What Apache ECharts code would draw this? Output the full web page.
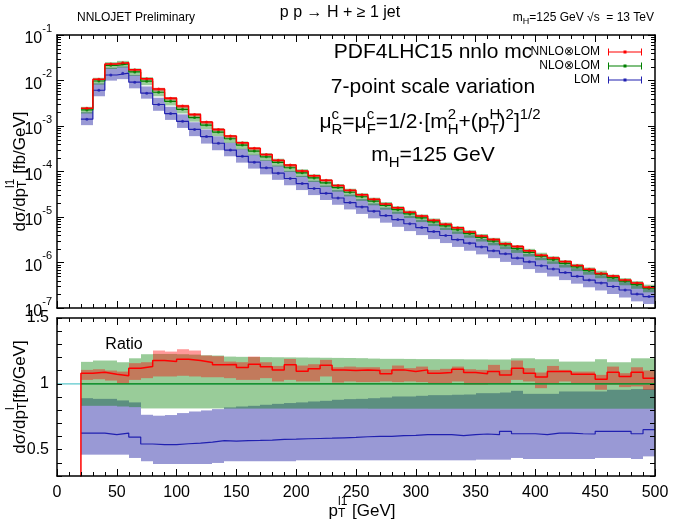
<!DOCTYPE html>
<html><head><meta charset="utf-8">
<script src="https://cdn.jsdelivr.net/npm/echarts@6/dist/echarts.min.js"></script>
<style>html,body{margin:0;padding:0;background:#fff}#c{width:675px;height:525px}</style>
</head><body><div id="c"></div>
<script>
// ---- data ----
const binEdges = [20,30,40,50,60,70,80,90,100,110,120,130,140,150,160,170,180,190,200,210,220,230,240,250,260,270,280,290,300,310,320,330,340,350,360,370,380,390,400,410,420,430,440,450,460,470,480,490,500];
const xTicks = [0,50,100,150,200,250,300,350,400,450,500];
// NLO central value [fb/GeV]
const nlo = [2.26e-3,9.75e-3,2.15e-2,2.32e-2,1.54e-2,9.68e-3,5.52e-3,3.48e-3,2.32e-3,1.53e-3,
 1.05e-3,7.35e-4,5.24e-4,3.80e-4,2.81e-4,2.10e-4,1.59e-4,1.21e-4,9.33e-5,7.23e-5,
 5.64e-5,4.43e-5,3.50e-5,2.79e-5,2.23e-5,1.79e-5,1.45e-5,1.17e-5,9.55e-6,7.80e-6,
 6.38e-6,5.25e-6,4.32e-6,3.56e-6,2.94e-6,2.43e-6,2.01e-6,1.67e-6,1.38e-6,1.15e-6,
 9.57e-7,7.98e-7,6.65e-7,5.56e-7,4.65e-7,3.89e-7,3.26e-7,2.73e-7];
// ratios to NLO central
const rNNLO = [1.081,1.088,1.073,1.061,1.119,1.131,1.177,1.169,1.187,1.177,
 1.162,1.144,1.146,1.124,1.148,1.129,1.106,1.144,1.096,1.114,
 1.141,1.106,1.101,1.106,1.101,1.076,1.106,1.093,1.106,1.081,
 1.086,1.111,1.086,1.076,1.093,1.068,1.119,1.081,1.051,1.093,
 1.093,1.073,1.073,1.035,1.088,1.056,1.088,1.043];
const rNNLOLo = [1.030,1.035,1.025,1.000,1.030,1.043,1.056,1.056,1.061,1.056,
 1.050,1.050,1.043,1.030,1.030,1.043,1.018,1.030,1.018,1.018,
 1.056,1.010,1.018,1.013,1.013,1.018,1.013,1.018,1.013,1.005,
 1.005,1.018,0.992,0.992,1.005,1.000,1.030,1.018,0.967,1.005,
 1.018,1.005,1.005,0.955,0.992,0.975,0.980,0.955];
const rNNLOHi = [1.106,1.111,1.101,1.093,1.157,1.164,1.253,1.245,1.263,1.253,
 1.215,1.210,1.169,1.164,1.207,1.164,1.136,1.189,1.139,1.149,
 1.182,1.126,1.131,1.126,1.126,1.111,1.139,1.119,1.131,1.106,
 1.114,1.131,1.111,1.106,1.144,1.106,1.177,1.119,1.086,1.136,
 1.106,1.093,1.093,1.068,1.131,1.081,1.126,1.101];
const rNLO = [1,1,1,1,1,1,1,1,1,1,1,1,1,1,1,1,1,1,1,1,1,1,1,1,1,1,1,1,1,1,1,1,1,1,1,1,1,1,1,1,1,1,1,1,1,1,1,1];
const rNLOLo = [0.833,0.833,0.833,0.828,0.823,0.813,0.813,0.813,0.813,0.813,0.813,0.813,
 0.812,0.812,0.812,0.812,0.812,0.812,0.812,0.812,0.812,0.812,0.812,0.812,
 0.811,0.811,0.811,0.811,0.811,0.811,0.811,0.811,0.811,0.811,0.811,0.811,
 0.811,0.811,0.811,0.811,0.811,0.811,0.811,0.811,0.811,0.811,0.811,0.811];
const rNLOHi = [1.167,1.177,1.177,1.164,1.194,1.225,1.227,1.227,1.225,1.222,1.217,1.215,
 1.207,1.205,1.204,1.203,1.202,1.201,1.200,1.199,1.198,1.197,1.196,1.195,
 1.192,1.190,1.190,1.189,1.188,1.188,1.187,1.187,1.186,1.186,1.185,1.185,
 1.194,1.194,1.187,1.187,1.169,1.169,1.169,1.187,1.164,1.164,1.194,1.194];
const rLOM = [0.626,0.626,0.614,0.626,0.596,0.543,0.538,0.538,0.545,0.550,
 0.558,0.568,0.565,0.568,0.570,0.573,0.578,0.580,0.583,0.585,
 0.587,0.590,0.593,0.598,0.601,0.601,0.606,0.608,0.614,0.614,
 0.614,0.606,0.614,0.619,0.614,0.639,0.621,0.621,0.614,0.626,
 0.626,0.621,0.619,0.639,0.639,0.639,0.621,0.652];
const rLOMLo = [0.462,0.462,0.462,0.462,0.437,0.412,0.391,0.391,0.391,0.391,0.391,0.399,
 0.412,0.412,0.412,0.412,0.412,0.412,0.419,0.419,0.419,0.419,0.419,0.419,
 0.419,0.419,0.419,0.419,0.419,0.419,0.419,0.419,0.419,0.424,0.424,0.424,
 0.437,0.429,0.429,0.429,0.429,0.429,0.429,0.437,0.437,0.437,0.429,0.449];
const rLOMHi = [0.891,0.886,0.886,0.874,0.859,0.765,0.758,0.763,0.778,0.790,0.798,0.808,
 0.821,0.828,0.833,0.841,0.848,0.854,0.859,0.866,0.871,0.879,0.884,0.886,
 0.891,0.896,0.904,0.904,0.909,0.914,0.914,0.917,0.919,0.929,0.929,0.934,
 0.947,0.924,0.924,0.924,0.942,0.942,0.942,0.942,0.955,0.955,0.960,0.960];
const rUnderflow = 0;   // ratio below the first bin
const seriesNames = ['NNLO\u2297LOM', 'NLO\u2297LOM', 'LOM'];

// ---- styles ----
const FONT = '"Liberation Sans", Arial, Helvetica, "DejaVu Sans", sans-serif';
const RED = '#ff0000', GREEN = '#008000', BLUE = '#2020b0', CYAN = '#5cc8cc';
const RED_B = 'rgba(255,0,0,0.4)', GREEN_B = 'rgba(0,128,0,0.4)', BLUE_B = 'rgba(0,0,150,0.4)';

const mul = (a, r) => a.map((v, i) => v * r[i]);
const centers = binEdges.slice(0, -1).map((x, i) => (x + binEdges[i + 1]) / 2);

function band(xi, yi, lo, hi, color) {
  return {
    type: 'custom', xAxisIndex: xi, yAxisIndex: yi, silent: true, clip: true, z: 2,
    encode: { x: [0, 1], y: [2, 3] },
    data: lo.map((l, i) => [binEdges[i], binEdges[i + 1], l, hi[i]]),
    renderItem: (params, api) => {
      const a = api.coord([api.value(0), api.value(3)]);
      const b = api.coord([api.value(1), api.value(2)]);
      const x0 = Math.round(a[0]), x1 = Math.round(b[0]);
      return { type: 'rect', shape: { x: x0, y: a[1], width: x1 - x0, height: b[1] - a[1] }, style: { fill: color } };
    }
  };
}
function stepLine(xi, yi, vals, color, width, name, pre) {
  const d = vals.map((v, i) => [binEdges[i], v]);
  d.push([binEdges[binEdges.length - 1], vals[vals.length - 1]]);
  return {
    type: 'line', name: name, xAxisIndex: xi, yAxisIndex: yi, step: 'end', z: 3,
    data: pre ? pre.concat(d) : d, symbol: 'none', silent: true,
    lineStyle: { color: color, width: width }, itemStyle: { color: color }
  };
}
function markers(vals, color) {
  return {
    type: 'scatter', xAxisIndex: 0, yAxisIndex: 0, silent: true, z: 4,
    data: vals.map((v, i) => [centers[i], v]), symbol: 'circle', symbolSize: 3,
    itemStyle: { color: color }
  };
}
// log minor tick positions (axis decoration)
const logMinor = [];
for (let e = -7; e < -1 + 1e-9; e++) for (let m = 2; m <= 9; m++) { const v = m * Math.pow(10, e); if (v < 0.1) logMinor.push(v); }
const minorTickSeries = {
  type: 'custom', xAxisIndex: 0, yAxisIndex: 0, silent: true, z: 10,
  data: logMinor.map(v => [0, v]),
  renderItem: (params, api) => {
    const cs = params.coordSys;
    const y = Math.round(api.coord([0, api.value(1)])[1]) + 0.5;
    return { type: 'group', children: [
      { type: 'line', shape: { x1: cs.x, y1: y, x2: cs.x + 4, y2: y }, style: { stroke: '#000', lineWidth: 1 } },
      { type: 'line', shape: { x1: cs.x + cs.width - 4, y1: y, x2: cs.x + cs.width, y2: y }, style: { stroke: '#000', lineWidth: 1 } }
    ] };
  }
};

const axisLine = { show: true, onZero: false, lineStyle: { color: '#000', width: 1.5 } };
const axisTick = { show: true, inside: true, length: 7, lineStyle: { color: '#000', width: 1 } };
const minorTick = { show: true, inside: true, splitNumber: 5, length: 4, lineStyle: { color: '#000', width: 1 } };
const richSS = {
  n: { fontSize: 17, lineHeight: 24, verticalAlign: 'bottom', align: 'left', fontFamily: FONT, color: '#000' },
  subz: { fontSize: 12, lineHeight: 10, verticalAlign: 'bottom', align: 'left', width: 0.01, fontFamily: FONT, color: '#000' },
  sup: { fontSize: 12, lineHeight: 10, verticalAlign: 'top', align: 'left', fontFamily: FONT, color: '#000' }
};
function xAx(gi, pos, labels, name) {
  return {
    type: 'value', gridIndex: gi, position: pos, min: 0, max: 500, interval: 50, z: 10,
    axisLine: axisLine, axisTick: axisTick, minorTick: minorTick, splitLine: { show: false }, minorSplitLine: { show: false },
    axisLabel: labels ? { show: true, fontSize: 16, fontFamily: FONT, color: '#000', margin: 9,
      formatter: v => (xTicks.indexOf(v) >= 0 ? String(v) : '') } : { show: false },
    name: name || '', nameLocation: 'middle', nameGap: 20, nameMoveOverlap: false,
    nameTextStyle: { fontSize: 17, fontFamily: FONT, color: '#000', lineHeight: 24, padding: [0, 0, 0, 12], rich: richSS }
  };
}
const logLabelRich = {
  b: { fontSize: 16, lineHeight: 24, verticalAlign: 'bottom', fontFamily: FONT, color: '#000' },
  s: { fontSize: 11, lineHeight: 12, verticalAlign: 'top', fontFamily: FONT, color: '#000' }
};
function yLog(pos, labels, name) {
  return {
    type: 'log', logBase: 10, gridIndex: 0, position: pos, min: 1e-7, max: 1e-1, splitNumber: 6, z: 10,
    axisLine: axisLine, axisTick: axisTick, splitLine: { show: false },
    axisLabel: labels ? { show: true, margin: 5, formatter: v => '{b|10}{s|' + Math.round(Math.log10(v)) + '}', rich: logLabelRich } : { show: false },
    name: name || '', nameLocation: 'middle', nameRotate: 90, nameGap: 28, nameMoveOverlap: false,
    nameTextStyle: { fontSize: 17, fontFamily: FONT, color: '#000', lineHeight: 24, rich: richSS }
  };
}
function yRatio(pos, labels, name) {
  return {
    type: 'value', gridIndex: 1, position: pos, min: 0.3, max: 1.5, interval: 0.1, z: 10,
    axisLine: axisLine, axisTick: { show: true, inside: true, length: 5, lineStyle: { color: '#000', width: 1 } }, splitLine: { show: false },
    axisLabel: labels ? { show: true, fontSize: 16, fontFamily: FONT, color: '#000', margin: 8,
      formatter: v => (Math.abs(v - 0.5) < 1e-6 ? '0.5' : Math.abs(v - 1) < 1e-6 ? '1' : Math.abs(v - 1.5) < 1e-6 ? '1.5' : '') } : { show: false },
    name: name || '', nameLocation: 'middle', nameRotate: 90, nameGap: 28, nameMoveOverlap: false,
    nameTextStyle: { fontSize: 17, fontFamily: FONT, color: '#000', lineHeight: 24, rich: richSS }
  };
}

const nnlo = mul(nlo, rNNLO), lom = mul(nlo, rLOM);
const ann = { fontFamily: FONT, fill: '#000' };
const formulaRich = {
  n: { fontSize: 21, lineHeight: 30, verticalAlign: 'middle', align: 'left', fontFamily: FONT, fill: '#000' },
  sup: { fontSize: 15, lineHeight: 15, verticalAlign: 'top', align: 'left', fontFamily: FONT, fill: '#000' },
  supz: { fontSize: 15, lineHeight: 15, verticalAlign: 'top', align: 'left', width: 0.01, fontFamily: FONT, fill: '#000' },
  sub: { fontSize: 15, lineHeight: 15, verticalAlign: 'bottom', align: 'left', fontFamily: FONT, fill: '#000' }
};

const option = {
  animation: false,
  backgroundColor: '#fff',
  grid: [
    { left: 57, right: 20, top: 35, height: 273, containLabel: false, outerBoundsMode: 'none' },
    { left: 57, right: 20, top: 318, height: 158, containLabel: false, outerBoundsMode: 'none' }
  ],
  xAxis: [
    xAx(0, 'bottom', false), xAx(0, 'top', false),
    xAx(1, 'bottom', true, '{n|p}{subz|T}{sup|l1}{n| [GeV]}'), xAx(1, 'top', false)
  ],
  yAxis: [
    yLog('left', true, '{n|d\u03c3/dp}{subz|T}{sup|l1}{n| [fb/GeV]}'), yLog('right', false),
    yRatio('left', true, '{n|d\u03c3/dp}{subz|T}{sup|l}{n| [fb/GeV]}'), yRatio('right', false)
  ],
  legend: {
    data: [{ name: seriesNames[0], itemStyle: { color: RED } }, { name: seriesNames[1], itemStyle: { color: GREEN } }, { name: seriesNames[2], itemStyle: { color: BLUE } }],
    orient: 'vertical', right: 33, top: 45, align: 'right', itemWidth: 34, itemHeight: 7, itemGap: 0,
    icon: 'path://M0,0H1V7H0Z M1,3H33V4H1Z M33,0H34V7H33Z M15.5,2H18.5V5H15.5Z',
    selectedMode: false, padding: 0,
    textStyle: { fontSize: 12, fontFamily: FONT, color: '#000', lineHeight: 14, padding: [0, 3, 0, 0] }
  },
  graphic: [
    { type: 'text', x: 77, y: 18, style: Object.assign({ text: 'NNLOJET Preliminary', fontSize: 12, align: 'left', verticalAlign: 'middle' }, ann) },
    { type: 'text', x: 340, y: 13, style: Object.assign({ text: 'p p \u2192 H + \u2265 1 jet', fontSize: 16, align: 'center', verticalAlign: 'middle' }, ann) },
    { type: 'text', x: 654, y: 18, style: Object.assign({ text: '{a|m}{s|H}{a|=125 GeV \u221as  = 13 TeV}', fontSize: 12, lineHeight: 16, align: 'right', verticalAlign: 'middle',
        rich: { a: { fontSize: 12, lineHeight: 16, verticalAlign: 'middle', align: 'left', fontFamily: FONT, fill: '#000' },
                s: { fontSize: 9, lineHeight: 9, verticalAlign: 'bottom', align: 'left', fontFamily: FONT, fill: '#000' } } }, ann) },
    { type: 'text', x: 433, y: 52, style: Object.assign({ text: 'PDF4LHC15 nnlo mc', fontSize: 21, align: 'center', verticalAlign: 'middle' }, ann) },
    { type: 'text', x: 433, y: 87, style: Object.assign({ text: '7-point scale variation', fontSize: 21, align: 'center', verticalAlign: 'middle' }, ann) },
    { type: 'text', x: 430, y: 122, style: Object.assign({ text: '{n|\u03bc}{supz|c}{sub|R}{n|=\u03bc}{supz|c}{sub|F}{n|=1/2\u00b7[m}{supz|2}{sub|H}{n|+(p}{supz|H}{sub|T}{n|)}{sup|2}{n|]}{sup|1/2}',
        fontSize: 21, lineHeight: 30, align: 'center', verticalAlign: 'middle', rich: formulaRich }, ann) },
    { type: 'text', x: 433, y: 155, style: Object.assign({ text: '{n|m}{sub|H}{n|=125 GeV}', fontSize: 21, lineHeight: 30, align: 'center', verticalAlign: 'middle', rich: formulaRich }, ann) },
    { type: 'text', x: 124, y: 345, style: Object.assign({ text: 'Ratio', fontSize: 16, align: 'center', verticalAlign: 'middle' }, ann) }
  ],
  series: [
    band(0, 0, mul(nlo, rLOMLo), mul(nlo, rLOMHi), BLUE_B),
    band(0, 0, mul(nlo, rNLOLo), mul(nlo, rNLOHi), GREEN_B),
    band(0, 0, mul(nlo, rNNLOLo), mul(nlo, rNNLOHi), RED_B),
    stepLine(0, 0, lom, BLUE, 1.2, seriesNames[2]),
    stepLine(0, 0, nlo, GREEN, 1.2, seriesNames[1]),
    stepLine(0, 0, nnlo, RED, 1.5, seriesNames[0]),
    markers(lom, BLUE), markers(nlo, GREEN), markers(nnlo, RED),
    minorTickSeries,
    band(2, 2, rLOMLo, rLOMHi, BLUE_B),
    band(2, 2, rNLOLo, rNLOHi, GREEN_B),
    band(2, 2, rNNLOLo, rNNLOHi, RED_B),
    { type: 'line', xAxisIndex: 2, yAxisIndex: 2, data: [[0, 1], [500, 1]], symbol: 'none', silent: true, z: 3, lineStyle: { color: CYAN, width: 1.2 } },
    stepLine(2, 2, rNLO, GREEN, 1.2),
    stepLine(2, 2, rLOM, BLUE, 1.2),
    stepLine(2, 2, rNNLO, RED, 1.5, undefined, [[binEdges[0], rUnderflow]])
  ]
};
const chart = echarts.init(document.getElementById('c'), null, { renderer: 'canvas' });
chart.setOption(option);
</script>
</body></html>
